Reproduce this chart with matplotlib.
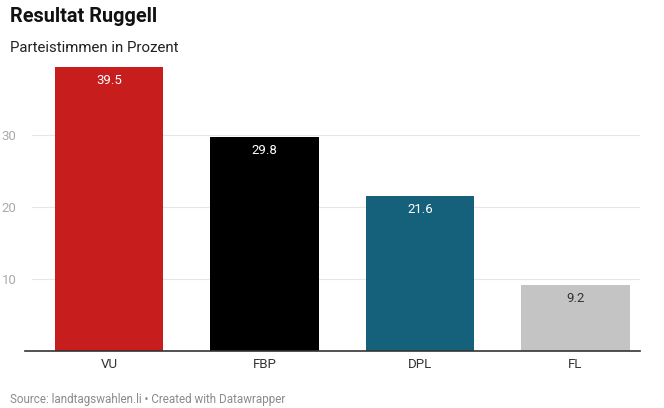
import matplotlib
matplotlib.use('Agg')
from matplotlib import pyplot as plt

parties = ['VU', 'FBP', 'DPL', 'FL']
shares = [39.5, 29.8, 21.6, 9.2]
colors = ['#c71e1d', '#000000', '#15607a', '#c4c4c4']
label_colors = ['white', 'white', 'white', '#333333']
yticks = [10, 20, 30]

plt.rcParams['font.family'] = ['Roboto', 'DejaVu Sans']

fig = plt.figure(figsize=(6.64, 4.08), dpi=100)
ax = fig.add_axes([25 / 664, 1 - 351 / 408, 615 / 664, (351 - 67) / 408])

x = range(len(parties))
ax.bar(x, shares, width=0.695, color=colors, zorder=2)
for i, (v, c) in enumerate(zip(shares, label_colors)):
    ax.annotate('%.1f' % v, (i, v), xytext=(0, -10), textcoords='offset points',
                ha='center', va='center', color=c, fontsize=9.5)

ax.set_xlim(-0.54, 3.415)
ax.set_ylim(0, 39.5)
ax.set_yticks(yticks)
ax.set_yticklabels([str(t) for t in yticks])
ax.set_xticks(list(x))
ax.set_xticklabels(parties)
for t in yticks:
    ax.axhline(t, xmin=7 / 615, xmax=1, color='#e6e6e6', linewidth=0.8, zorder=1)

for s in ['top', 'right', 'left']:
    ax.spines[s].set_visible(False)
ax.spines['bottom'].set_color('#333333')
ax.spines['bottom'].set_linewidth(1.2)
ax.tick_params(axis='y', length=0, pad=6, labelcolor='#aaaaaa', labelsize=9.5)
ax.tick_params(axis='x', length=0, pad=5, labelcolor='#333333', labelsize=9.5)

fig.text(10 / 664, 1 - 16 / 408, 'Resultat Ruggell', fontsize=14.3, fontweight='bold',
         va='center', ha='left', color='#111111')
fig.text(10 / 664, 1 - 48 / 408, 'Parteistimmen in Prozent', fontsize=10.8,
         va='center', ha='left', color='#222222')
fig.text(10 / 664, 1 - 399 / 408, 'Source: landtagswahlen.li \u2022 Created with Datawrapper',
         fontsize=8.4, va='center', ha='left', color='#8a8a8a')

fig.savefig('out.png', dpi=100)
